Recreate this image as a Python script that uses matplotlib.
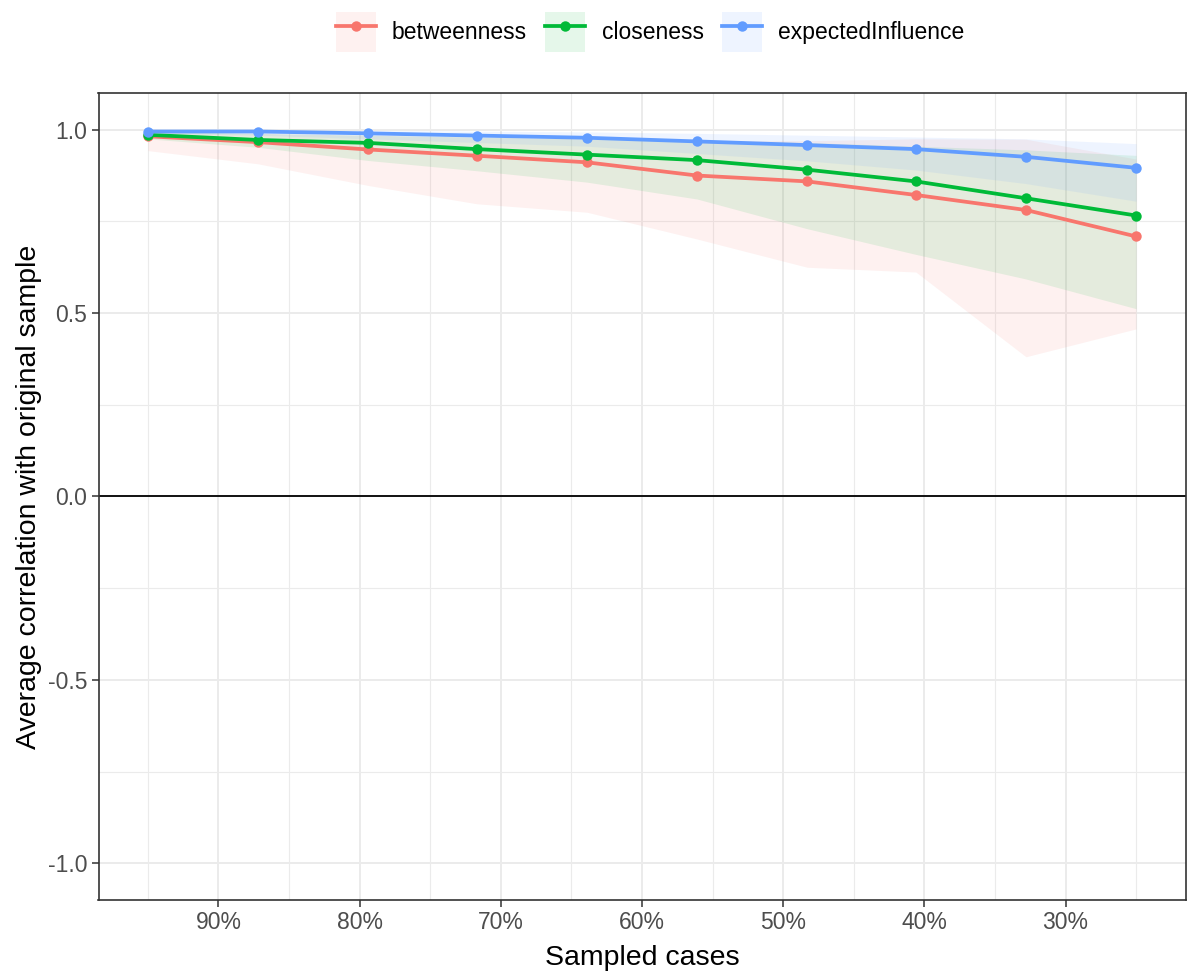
import matplotlib
matplotlib.use("Agg")
import matplotlib.pyplot as plt
from matplotlib.lines import Line2D
from matplotlib.patches import Patch
from matplotlib.ticker import FixedLocator

# ---- data ----
sampled_pct = [95.0, 87.2, 79.4, 71.7, 63.9, 56.1, 48.3, 40.6, 32.8, 25.0]

measures = ["betweenness", "closeness", "expectedInfluence"]

betweenness_mean = [0.982, 0.966, 0.946, 0.929, 0.911, 0.875, 0.859, 0.822, 0.781, 0.709]
betweenness_lower = [0.943, 0.907, 0.848, 0.798, 0.775, 0.702, 0.625, 0.612, 0.381, 0.457]
betweenness_upper = [0.995, 0.990, 0.985, 0.980, 0.975, 0.970, 0.970, 0.975, 0.974, 0.920]

closeness_mean = [0.986, 0.972, 0.964, 0.947, 0.932, 0.917, 0.891, 0.859, 0.813, 0.766]
closeness_lower = [0.975, 0.952, 0.916, 0.888, 0.857, 0.811, 0.730, 0.660, 0.593, 0.512]
closeness_upper = [0.995, 0.990, 0.985, 0.980, 0.975, 0.970, 0.965, 0.955, 0.945, 0.930]

expected_mean = [0.995, 0.995, 0.990, 0.984, 0.978, 0.968, 0.958, 0.947, 0.926, 0.896]
expected_lower = [0.990, 0.985, 0.975, 0.965, 0.955, 0.935, 0.915, 0.890, 0.853, 0.805]
expected_upper = [1.000, 1.000, 0.998, 0.996, 0.994, 0.990, 0.985, 0.980, 0.975, 0.962]

x_ticks = [90, 80, 70, 60, 50, 40, 30]
x_tick_labels = ["90%", "80%", "70%", "60%", "50%", "40%", "30%"]
y_ticks = [-1.0, -0.5, 0.0, 0.5, 1.0]
y_tick_labels = ["-1.0", "-0.5", "0.0", "0.5", "1.0"]

colors = ["#F8766D", "#00BA38", "#619CFF"]

means = [betweenness_mean, closeness_mean, expected_mean]
lowers = [betweenness_lower, closeness_lower, expected_lower]
uppers = [betweenness_upper, closeness_upper, expected_upper]

# ---- figure ----
plt.rcParams["font.family"] = ["Liberation Sans", "DejaVu Sans"]
W, H = 1187, 976
fig = plt.figure(figsize=(W / 100, H / 100), dpi=100)
left, right, top, bottom = 98.5, 1185.5, 93, 900
ax = fig.add_axes([left / W, 1 - bottom / H, (right - left) / W, (bottom - top) / H])

ax.set_xlim(98.5, 21.5)
ax.set_ylim(-1.1, 1.1)

# grid
ax.xaxis.set_major_locator(FixedLocator(x_ticks))
ax.xaxis.set_minor_locator(FixedLocator([95, 85, 75, 65, 55, 45, 35, 25]))
ax.yaxis.set_major_locator(FixedLocator(y_ticks))
ax.yaxis.set_minor_locator(FixedLocator([-0.75, -0.25, 0.25, 0.75]))
ax.grid(which="major", color="#EBEBEB", linewidth=1.4)
ax.grid(which="minor", color="#EBEBEB", linewidth=0.8)
ax.set_axisbelow(True)

ax.axhline(0, color="black", linewidth=1.3, zorder=1.5)

for lo, up, c in zip(lowers, uppers, colors):
    ax.fill_between(sampled_pct, lo, up, color=c, alpha=0.1, linewidth=0, zorder=2)

for m, c in zip(means, colors):
    ax.plot(sampled_pct, m, color=c, linewidth=2.7, marker="o", markersize=7.5,
            markeredgewidth=0, zorder=3)

ax.set_xticklabels(x_tick_labels)
ax.set_yticklabels(y_tick_labels)
ax.tick_params(axis="both", which="major", length=5, width=1.1, color="#333333",
               labelsize=16.5, labelcolor="#4D4D4D", pad=3)
ax.tick_params(axis="both", which="minor", length=0)

for s in ax.spines.values():
    s.set_color("#333333")
    s.set_linewidth(1.2)

ax.set_xlabel("Sampled cases", fontsize=20.5, color="black", labelpad=8)
ax.set_ylabel("Average correlation with original sample", fontsize=20.5, color="black", labelpad=4)

# legend
handles = []
for c in colors:
    p = Patch(facecolor=c, alpha=0.1, edgecolor="none")
    l = Line2D([], [], color=c, linewidth=2.7, marker="o", markersize=7.5, markeredgewidth=0)
    handles.append((p, l))
fig.legend(handles, measures, loc="center", bbox_to_anchor=(650 / W, 1 - 32 / H),
           ncol=3, frameon=False, fontsize=16.5, handlelength=1.75, handleheight=2.3,
           handletextpad=0.7, columnspacing=0.8)

fig.savefig("out.png", dpi=100)
